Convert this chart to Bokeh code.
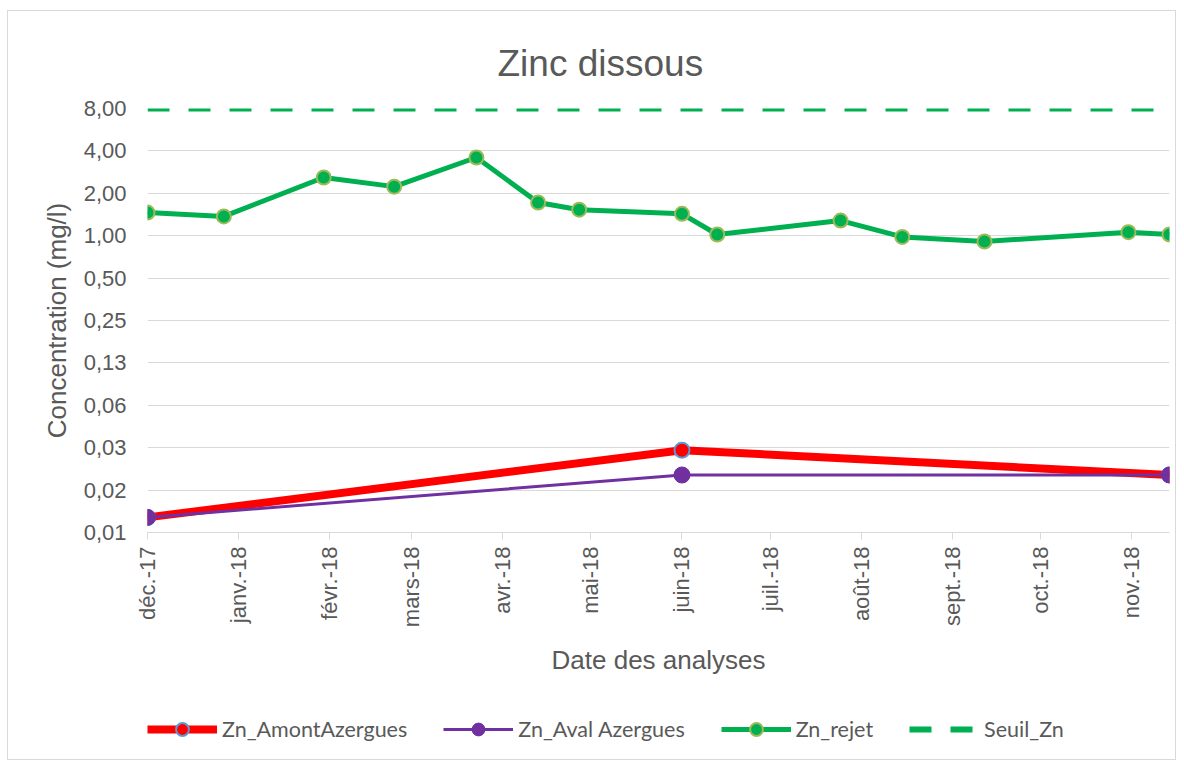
import pandas as pd
from bokeh.plotting import figure
from bokeh.layouts import column
from bokeh.models import (FixedTicker, CustomJSTickFormatter, Range1d, Legend, LegendItem)
from bokeh.embed import file_html
from bokeh.resources import INLINE

# ---------------- data ----------------
chart_title = "Zinc dissous"
x_title = "Date des analyses"
y_title = "Concentration (mg/l)"

rejet_dates = ["2017-12-01", "2017-12-27", "2018-01-30", "2018-02-23", "2018-03-23",
               "2018-04-13", "2018-04-27", "2018-06-01", "2018-06-13", "2018-07-25",
               "2018-08-15", "2018-09-12", "2018-10-31", "2018-11-14"]
zn_rejet = [1.46, 1.37, 2.59, 2.23, 3.59, 1.72, 1.53, 1.43, 1.02, 1.28, 0.98, 0.91, 1.06, 1.02]

azergues_dates = ["2017-12-01", "2018-06-01", "2018-11-14"]
zn_amont = [0.0100, 0.0300, 0.0200]
zn_aval = [0.0100, 0.0200, 0.0200]

seuil_dates = ["2017-12-01", "2018-11-14"]
seuil_zn = [8.0, 8.0]

series_names = ["Zn_AmontAzergues", "Zn_Aval Azergues", "Zn_rejet", "Seuil_Zn"]

month_starts = ["2017-12-01", "2018-01-01", "2018-02-01", "2018-03-01", "2018-04-01",
                "2018-05-01", "2018-06-01", "2018-07-01", "2018-08-01", "2018-09-01",
                "2018-10-01", "2018-11-01"]
month_labels = ["déc.-17", "janv.-18", "févr.-18", "mars-18", "avr.-18", "mai-18",
                "juin-18", "juil.-18", "août-18", "sept.-18", "oct.-18", "nov.-18"]

y_ticks = [0.0078125, 0.015625, 0.03125, 0.0625, 0.125, 0.25, 0.5, 1.0, 2.0, 4.0, 8.0]
y_tick_labels = ["0,01", "0,02", "0,03", "0,06", "0,13", "0,25", "0,50", "1,00", "2,00", "4,00", "8,00"]

# ---------------- helpers ----------------
def to_dt(lst):
    return pd.to_datetime(lst)

def to_ms(lst):
    return [pd.Timestamp(d).value / 1e6 for d in lst]

TXT = "#595959"
GRID = "#d9d9d9"
RED = "#ff0000"
PURPLE = "#7030a0"
GREEN = "#00b050"
BORDER = "1px solid #d9d9d9"

STY = {
    "amont_l": dict(line_color=RED, line_width=8),
    "amont_m": dict(size=15, fill_color=RED, line_color="#5b9bd5", line_width=2),
    "aval_l": dict(line_color=PURPLE, line_width=3),
    "aval_m": dict(size=16, fill_color=PURPLE, line_color=PURPLE, line_width=1),
    "rej_l": dict(line_color=GREEN, line_width=5),
    "rej_m": dict(size=14, fill_color=GREEN, line_color="#9bbb59", line_width=2),
    "seuil": dict(line_color=GREEN, line_width=6, line_dash="22 19"),
}

# ---------------- main figure ----------------
p = figure(width=1169, height=691, x_axis_type="datetime", y_axis_type="log",
           output_backend="svg", toolbar_location=None,
           x_range=Range1d(to_dt(rejet_dates)[0], to_dt(rejet_dates)[-1]),
           y_range=Range1d(y_ticks[0], y_ticks[-1]),
           min_border_left=139, min_border_right=8, min_border_top=97, min_border_bottom=170)
p.styles = {"border-top": BORDER, "border-left": BORDER, "border-right": BORDER}
p.outline_line_color = None
p.background_fill_color = "white"
p.border_fill_color = "white"

p.title.text = chart_title
p.title.text_font = "Liberation Sans"
p.title.text_font_size = "37px"
p.title.text_font_style = "normal"
p.title.text_color = TXT
p.title.align = "left"
p.title.offset = 350
p.title.standoff = 50

p.xgrid.grid_line_color = None
p.ygrid.grid_line_color = GRID
p.ygrid.grid_line_width = 1
p.ygrid.ticker = FixedTicker(ticks=y_ticks)

p.yaxis.ticker = FixedTicker(ticks=y_ticks)
p.yaxis.formatter = CustomJSTickFormatter(args=dict(tvals=y_ticks, tlabels=y_tick_labels), code="""
    let best = 0, bd = 1e9;
    for (let i = 0; i < tvals.length; i++) {
        const d = Math.abs(Math.log(tvals[i]) - Math.log(tick));
        if (d < bd) { bd = d; best = i; }
    }
    return bd < 0.01 ? tlabels[best] : '';
""")
p.yaxis.axis_line_color = None
p.yaxis.major_tick_line_color = None
p.yaxis.minor_tick_line_color = None
p.yaxis.major_tick_out = 0
p.yaxis.major_tick_in = 0
p.yaxis.major_label_standoff = 21
p.yaxis.major_label_text_font = "Liberation Sans"
p.yaxis.major_label_text_font_size = "22px"
p.yaxis.major_label_text_color = TXT
p.yaxis.axis_label = y_title
p.yaxis.axis_label_text_font = "Liberation Sans"
p.yaxis.axis_label_text_font_size = "26px"
p.yaxis.axis_label_text_font_style = "normal"
p.yaxis.axis_label_text_color = TXT
p.yaxis.axis_label_standoff = 9

month_ms = to_ms(month_starts)
p.xaxis.ticker = FixedTicker(ticks=month_ms)
p.xaxis.formatter = CustomJSTickFormatter(args=dict(mvals=month_ms, mlabels=month_labels), code="""
    for (let i = 0; i < mvals.length; i++) {
        if (Math.abs(mvals[i] - tick) < 3600000) return mlabels[i];
    }
    return '';
""")
p.xaxis.axis_line_color = GRID
p.xaxis.axis_line_width = 1
p.xaxis.major_tick_line_color = GRID
p.xaxis.major_tick_in = 0
p.xaxis.major_tick_out = 7
p.xaxis.minor_tick_line_color = None
p.xaxis.major_label_orientation = 3.14159265 / 2
p.xaxis.major_label_standoff = 7
p.xaxis.major_label_text_font = "Liberation Sans"
p.xaxis.major_label_text_font_size = "22px"
p.xaxis.major_label_text_color = TXT
p.xaxis.axis_label = x_title
p.xaxis.axis_label_text_font = "Liberation Sans"
p.xaxis.axis_label_text_font_size = "26px"
p.xaxis.axis_label_text_font_style = "normal"
p.xaxis.axis_label_text_color = TXT
p.xaxis.axis_label_standoff = 15

az_dt = to_dt(azergues_dates)
rj_dt = to_dt(rejet_dates)
sz_dt = to_dt(seuil_dates)
p.line(az_dt, zn_amont, **STY["amont_l"])
p.scatter(az_dt, zn_amont, **STY["amont_m"])
p.line(az_dt, zn_aval, **STY["aval_l"])
p.scatter(az_dt, zn_aval, **STY["aval_m"])
p.line(rj_dt, zn_rejet, **STY["rej_l"])
p.scatter(rj_dt, zn_rejet, **STY["rej_m"])
p.line(sz_dt, seuil_zn, **STY["seuil"])

# ---------------- legend figure (legend strip at the bottom) ----------------
lf = figure(width=1169, height=59, output_backend="svg", toolbar_location=None,
            x_axis_location=None, y_axis_location=None,
            x_range=Range1d(0, 1), y_range=Range1d(0, 1),
            min_border_left=0, min_border_right=0, min_border_top=0, min_border_bottom=0)
lf.outline_line_color = None
lf.xgrid.visible = False
lf.ygrid.visible = False
lf.background_fill_color = "white"
lf.border_fill_color = "white"
lf.styles = {"border-bottom": BORDER, "border-left": BORDER, "border-right": BORDER}

# legend proxies (same series, lying outside this strip's ranges, so only their legend glyphs show)
la_l = lf.line(az_dt, zn_amont, **STY["amont_l"])
la_m = lf.scatter(az_dt, zn_amont, **STY["amont_m"])
lv_l = lf.line(az_dt, zn_aval, **STY["aval_l"])
lv_m = lf.scatter(az_dt, zn_aval, **STY["aval_m"])
lr_l = lf.line(rj_dt, zn_rejet, **STY["rej_l"])
lr_m = lf.scatter(rj_dt, zn_rejet, **STY["rej_m"])
ls_l = lf.line(sz_dt, seuil_zn, **STY["seuil"])

legend = Legend(items=[
    LegendItem(label=series_names[0], renderers=[la_l, la_m]),
    LegendItem(label=series_names[1], renderers=[lv_l, lv_m]),
    LegendItem(label=series_names[2], renderers=[lr_l, lr_m]),
    LegendItem(label=series_names[3], renderers=[ls_l]),
], orientation="horizontal", location=(0, 15))
legend.label_text_font = "Lato"
legend.label_text_font_size = "21.5px"
legend.label_text_color = TXT
legend.glyph_width = 70
legend.glyph_height = 32
legend.label_standoff = 5
legend.spacing = 36
legend.padding = 0
legend.margin = 0
legend.border_line_color = None
legend.background_fill_alpha = 0
lf.add_layout(legend, "center")

layout = column(p, lf, spacing=0, styles={"margin-left": "7px", "margin-top": "10px"})

open("out.html", "w").write(file_html(layout, INLINE))
